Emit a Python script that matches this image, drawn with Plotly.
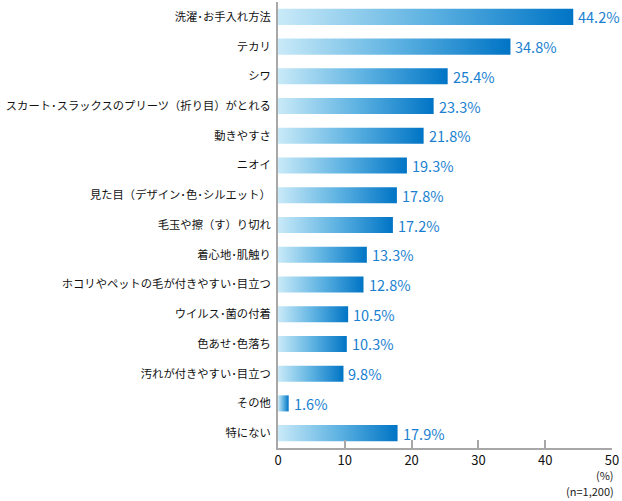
import plotly.graph_objects as go

categories = [
    "洗濯･お手入れ方法",
    "テカリ",
    "シワ",
    "スカート･スラックスのプリーツ（折り目）がとれる",
    "動きやすさ",
    "ニオイ",
    "見た目（デザイン･色･シルエット）",
    "毛玉や擦（す）り切れ",
    "着心地･肌触り",
    "ホコリやペットの毛が付きやすい･目立つ",
    "ウイルス･菌の付着",
    "色あせ･色落ち",
    "汚れが付きやすい･目立つ",
    "その他",
    "特にない",
]
values = [44.2, 34.8, 25.4, 23.3, 21.8, 19.3, 17.8, 17.2, 13.3, 12.8, 10.5, 10.3, 9.8, 1.6, 17.9]
x_ticks = [0, 10, 20, 30, 40, 50]

FONT = "Noto Sans CJK JP"
n = len(categories)
half = 0.27

fig = go.Figure()
for i, v in enumerate(values):
    fig.add_trace(go.Scatter(
        x=[0, v, v, 0, 0],
        y=[i - half, i - half, i + half, i + half, i - half],
        fill="toself",
        mode="lines",
        line=dict(width=0, color="rgba(0,0,0,0)"),
        fillgradient=dict(type="horizontal",
                          colorscale=[[0, "#c9eaf8"], [0.5, "#5fb3e2"], [1, "#0074c5"]],
                          start=0, stop=v),
        hoverinfo="skip",
        showlegend=False,
    ))

annotations = []
for i, v in enumerate(values):
    annotations.append(dict(
        x=v, y=i, xref="x", yref="y", text=f"{v:.1f}%",
        xanchor="left", yanchor="middle", xshift=3, showarrow=False,
        font=dict(family=FONT, size=14.5, color="#1a7fd0"),
    ))

annotations += [
    dict(text="(%)", xref="paper", yref="paper", x=1, y=0, xanchor="right",
         yanchor="middle", xshift=4, yshift=-27, showarrow=False,
         font=dict(family=FONT, size=11, color="#222222")),
    dict(text="(n=1,200)", xref="paper", yref="paper", x=1, y=0, xanchor="right",
         yanchor="middle", xshift=4, yshift=-43, showarrow=False,
         font=dict(family=FONT, size=11, color="#222222")),
]

fig.update_layout(
    width=622, height=501,
    margin=dict(l=278, r=10, t=2, b=53),
    paper_bgcolor="white",
    plot_bgcolor="white",
    font=dict(family=FONT, color="#111111"),
    xaxis=dict(
        range=[0, 50],
        tickvals=x_ticks,
        ticktext=[str(t) for t in x_ticks],
        ticks="inside",
        ticklen=8,
        tickwidth=1.5,
        tickcolor="#a8a8a8",
        showline=True,
        linecolor="#a8a8a8",
        linewidth=1.5,
        showgrid=False,
        zeroline=False,
        automargin=False,
        tickfont=dict(family=FONT, size=13, color="#111111"),
        fixedrange=True,
    ),
    yaxis=dict(
        range=[n - 0.5, -0.5],
        tickvals=list(range(n)),
        ticktext=categories,
        showline=True,
        linecolor="#a8a8a8",
        linewidth=2,
        showgrid=False,
        zeroline=False,
        ticks="",
        ticklabelstandoff=3,
        automargin=False,
        tickfont=dict(family=FONT, size=11.3, color="#111111"),
        fixedrange=True,
    ),
    annotations=annotations,
)

fig.write_html("out.html")
